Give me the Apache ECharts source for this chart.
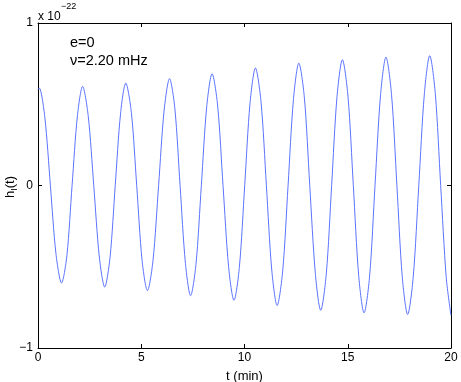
<!DOCTYPE html>
<html>
<head>
<meta charset="utf-8">
<script src="https://cdn.jsdelivr.net/npm/echarts@6/dist/echarts.min.js"></script>
<style>
  html, body { margin: 0; padding: 0; background: #fff; }
  #main { width: 461px; height: 382px; }
</style>
</head>
<body>
<div id="main"></div>
<script>
// times (min): peaks, troughs, zero crossings and points in between
var tMin = [0, 0.06, 0.33, 0.60, 0.87, 1.14, 1.40, 1.65, 1.91, 2.16, 2.43, 2.70, 2.97, 3.23, 3.49, 3.74,
    4.00, 4.25, 4.52, 4.78, 5.04, 5.30, 5.57, 5.84, 6.11, 6.37, 6.63, 6.88, 7.14, 7.39, 7.65, 7.91,
    8.17, 8.43, 8.70, 8.96, 9.23, 9.49, 9.75, 10.01, 10.27, 10.53, 10.80, 11.06, 11.32, 11.58, 11.85, 12.11,
    12.37, 12.63, 12.90, 13.16, 13.43, 13.69, 13.96, 14.22, 14.48, 14.74, 15.01, 15.27, 15.53, 15.79, 16.06, 16.32,
    16.59, 16.85, 17.12, 17.38, 17.64, 17.90, 18.17, 18.44, 18.71, 18.97, 19.24, 19.50, 19.77, 20.0];
// h_I(t) in units of 1e-22
var hVal = [0.59, 0.60, 0.42, 0, -0.42, -0.60, -0.43, 0, 0.43, 0.61, 0.43, 0, -0.44, -0.625, -0.44, 0,
    0.445, 0.63, 0.45, 0, -0.46, -0.647, -0.46, 0, 0.465, 0.658, 0.47, 0, -0.48, -0.678, -0.485, 0,
    0.485, 0.688, 0.49, 0, -0.50, -0.707, -0.505, 0, 0.51, 0.723, 0.515, 0, -0.52, -0.739, -0.525, 0,
    0.53, 0.753, 0.54, 0, -0.54, -0.768, -0.545, 0, 0.547, 0.774, 0.55, 0, -0.555, -0.784, -0.556, 0,
    0.56, 0.79, 0.56, 0, -0.562, -0.794, -0.564, 0, 0.565, 0.799, 0.566, 0, -0.567, -0.80];
var xTicks = [0, 5, 10, 15, 20];
var yTicks = [-1, 0, 1];

var pts = [];
for (var i = 0; i < tMin.length; i++) pts.push([tMin[i], hVal[i]]);

var font = '"Liberation Sans", Arial, sans-serif';
var chart = echarts.init(document.getElementById('main'));

// box-style frame: ticks inside on all four sides
function frameAxis(extra) {
    var a = {
        type: 'value',
        axisLine: { onZero: false, lineStyle: { color: '#000', width: 1 } },
        axisTick: { inside: true, length: 4, lineStyle: { color: '#000' } },
        splitLine: { show: false }
    };
    for (var k in extra) a[k] = extra[k];
    return a;
}

var option = {
    animation: false,
    backgroundColor: '#fff',
    grid: { left: 38, right: 10, top: 23, bottom: 34, outerBoundsMode: 'none', containLabel: false },
    xAxis: [
        frameAxis({
            min: xTicks[0], max: xTicks[xTicks.length - 1], interval: 5, position: 'bottom',
            name: 't (min)', nameLocation: 'middle', nameGap: 22,
            nameTextStyle: { fontFamily: font, fontSize: 13, color: '#000' },
            axisLabel: { fontFamily: font, fontSize: 12, color: '#000', margin: 4 }
        }),
        frameAxis({ min: 0, max: 20, interval: 5, position: 'top', axisLabel: { show: false } })
    ],
    yAxis: [
        frameAxis({
            min: yTicks[0], max: yTicks[yTicks.length - 1], interval: 1, position: 'left',
            axisLabel: {
                fontFamily: font, fontSize: 12, color: '#000', margin: 5,
                formatter: function (v) { return v < 0 ? '\u2212' + Math.abs(v) : String(v); }
            }
        }),
        frameAxis({ min: -1, max: 1, interval: 1, position: 'right', axisLabel: { show: false } })
    ],
    graphic: [{
        type: 'text', x: 10, y: 187, rotation: Math.PI / 2,
        style: {
            text: '{h|h}{s|I}{h|(t)}', align: 'center', verticalAlign: 'middle',
            rich: {
                h: { fontFamily: font, fontSize: 13, fill: '#000', lineHeight: 16 },
                s: { fontFamily: font, fontSize: 9, fill: '#000', lineHeight: 16, padding: [9, 0, 0, 0] }
            }
        }
    }, {
        type: 'text', left: 38, top: 11,
        style: { text: 'x 10', fontFamily: font, fontSize: 12, fill: '#000' }
    }, {
        type: 'text', left: 61, top: 2,
        style: { text: '\u221222', fontFamily: font, fontSize: 9, fill: '#000' }
    }, {
        type: 'text', x: 70, y: 43,
        style: { text: 'e=0', fontFamily: font, fontSize: 14.5, fill: '#000', verticalAlign: 'middle' }
    }, {
        type: 'text', x: 70, y: 61,
        style: { text: '\u03bd=2.20 mHz', fontFamily: font, fontSize: 14.5, fill: '#000', verticalAlign: 'middle' }
    }],
    series: [{
        type: 'line', data: pts, smooth: 0.3, symbol: 'none',
        lineStyle: { color: '#5b74ff', width: 1 }
    }]
};
chart.setOption(option);
</script>
</body>
</html>
